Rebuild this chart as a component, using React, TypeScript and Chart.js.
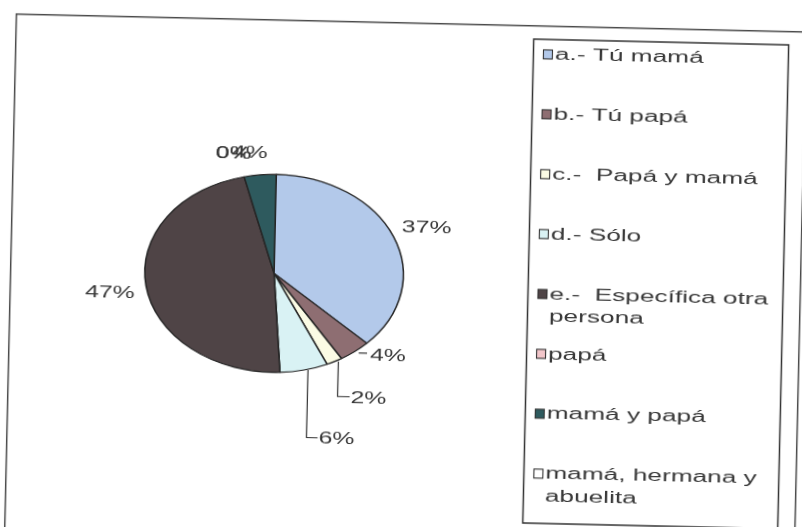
import React, { useEffect, useRef } from "react";
import { Chart, registerables } from "chart.js";

Chart.register(...registerables);

// ---- data ----
const categories = [
  "a.- Tú mamá",
  "b.- Tú papá",
  "c.-  Papá y mamá",
  "d.- Sólo",
  "e.-  Específica otra persona",
  "papá",
  "mamá y papá",
  "mamá, hermana y abuelita",
];
const values = [37, 4, 2, 6, 47, 0, 4, 0];
const sliceColors = [
  "#b3c9ea",
  "#8e6e72",
  "#fbfbe4",
  "#d9f2f4",
  "#4f4446",
  "#f2c6ca",
  "#2e5a5e",
  "#ffffff",
];

// ---- layout / style config (not data) ----
const W = 840;
const H = 560;
const PIE_CX = 280.2;
const PIE_CY = 267.1;
const PIE_HALF = 99.6; // half of chart area (radius + border spacing)
const PIE_SX = 1.306; // horizontal stretch of the scanned pie
const LABEL_TSX = 1.55;
const LEGEND_TSX = 1.64;
const FONT = "16px 'Liberation Sans', Arial, sans-serif";
const TEXT_COLOR = "#383838";
const labelOffsets: [number, number][] = [
  [32.8, -10.4],
  [33.3, 2.9],
  [35, 34.9],
  [34, 67.5],
  [-36, 6],
  [-11, -24.4],
  [-10.8, -22.5],
  [-43, -21.3],
];
const labelLeaders = ["none", "dash", "elbow", "elbow", "none", "none", "none", "none"];
const FRAME = { x: 16.7, y: 13.7, w: 790, h: 580 };
const LEGEND_BOX = { x: 534.5, y: 27, w: 255, h: 484 };
const LEG_MARK_X = 544.5;
const LEG_MARK = 9;
const LEG_TEXT_X = 556;
const LEG_Y0 = 42;
const LEG_DY = 59.9;
const LEG_LINE_H = 22.5;
const LEG_WRAP_W = 232;

function drawText(ctx: CanvasRenderingContext2D, text: string, x: number, y: number, sx: number, align: CanvasTextAlign) {
  ctx.save();
  ctx.translate(x, y);
  ctx.scale(sx, 1);
  ctx.textAlign = align;
  ctx.textBaseline = "alphabetic";
  ctx.fillText(text, 0, 0);
  ctx.restore();
}

function wrap(ctx: CanvasRenderingContext2D, text: string, sx: number, maxW: number): string[] {
  const words = text.split(" ");
  const lines: string[] = [];
  let line = words[0];
  for (let i = 1; i < words.length; i++) {
    const test = line + " " + words[i];
    if (ctx.measureText(test).width * sx > maxW && line.trim() !== "" && words[i] !== "") {
      lines.push(line);
      line = words[i];
    } else {
      line = test;
    }
  }
  lines.push(line);
  return lines;
}

const scanPlugin = {
  id: "scanLook",
  beforeDraw(chart: any) {
    const ctx: CanvasRenderingContext2D = chart.ctx;
    ctx.save();
    ctx.fillStyle = "#ffffff";
    ctx.fillRect(0, 0, chart.width, chart.height);
    ctx.strokeStyle = "#4a4a4a";
    ctx.lineWidth = 1.5;
    ctx.strokeRect(FRAME.x, FRAME.y, FRAME.w, FRAME.h);
    ctx.strokeStyle = "#333333";
    ctx.lineWidth = 1.5;
    ctx.strokeRect(LEGEND_BOX.x, LEGEND_BOX.y, LEGEND_BOX.w, LEGEND_BOX.h);
    ctx.restore();
  },
  beforeDatasetsDraw(chart: any) {
    const arc = chart.getDatasetMeta(0).data[0];
    const ctx: CanvasRenderingContext2D = chart.ctx;
    ctx.save();
    ctx.translate(arc.x, arc.y);
    ctx.scale(PIE_SX, 1);
    ctx.translate(-arc.x, -arc.y);
  },
  afterDatasetsDraw(chart: any) {
    chart.ctx.restore();
  },
  afterDraw(chart: any) {
    const ctx: CanvasRenderingContext2D = chart.ctx;
    const meta = chart.getDatasetMeta(0);
    const total = values.reduce((a, b) => a + b, 0);
    ctx.save();
    ctx.font = FONT;
    ctx.fillStyle = TEXT_COLOR;
    ctx.strokeStyle = "#333333";
    ctx.lineWidth = 1.2;

    // data labels
    meta.data.forEach((arc: any, i: number) => {
      const p = arc.getProps(["x", "y", "startAngle", "endAngle", "outerRadius"], true);
      const mid = (p.startAngle + p.endAngle) / 2;
      const ax = p.x + PIE_SX * p.outerRadius * Math.cos(mid);
      const ay = p.y + p.outerRadius * Math.sin(mid);
      const lx = ax + labelOffsets[i][0];
      const ly = ay + labelOffsets[i][1];
      const text = Math.round((values[i] / total) * 100) + "%";
      const tw = ctx.measureText(text).width * LABEL_TSX;
      const left = lx - tw / 2;
      drawText(ctx, text, lx, ly + 6, LABEL_TSX, "center");
      if (labelLeaders[i] === "dash") {
        ctx.beginPath();
        ctx.moveTo(ax + 4, ly - 1.5);
        ctx.lineTo(left - 3, ly - 1.5);
        ctx.stroke();
      } else if (labelLeaders[i] === "elbow") {
        ctx.beginPath();
        ctx.moveTo(ax + 4, ay);
        ctx.lineTo(ax + 4, ly);
        ctx.lineTo(left - 1, ly);
        ctx.stroke();
      }
    });

    // legend
    categories.forEach((cat, i) => {
      const y = LEG_Y0 + i * LEG_DY;
      ctx.fillStyle = sliceColors[i];
      ctx.fillRect(LEG_MARK_X, y - LEG_MARK / 2, LEG_MARK, LEG_MARK);
      ctx.lineWidth = 1.1;
      ctx.strokeRect(LEG_MARK_X, y - LEG_MARK / 2, LEG_MARK, LEG_MARK);
      ctx.fillStyle = TEXT_COLOR;
      const lines = wrap(ctx, cat, LEGEND_TSX, LEG_WRAP_W);
      lines.forEach((ln, k) => {
        drawText(ctx, ln, LEG_TEXT_X, y + 5 + k * LEG_LINE_H, LEGEND_TSX, "left");
      });
    });
    ctx.restore();
  },
};

export default function App() {
  const ref = useRef<HTMLCanvasElement>(null);
  useEffect(() => {
    const chart = new Chart(ref.current as HTMLCanvasElement, {
      type: "pie",
      data: {
        labels: categories,
        datasets: [
          {
            data: values,
            backgroundColor: sliceColors,
            borderColor: "#262626",
            borderWidth: 1.2,
          },
        ],
      },
      options: {
        animation: false,
        responsive: true,
        maintainAspectRatio: false,
        events: [],
        layout: {
          padding: {
            left: PIE_CX - PIE_HALF,
            top: PIE_CY - PIE_HALF,
            right: W - PIE_CX - PIE_HALF,
            bottom: H - PIE_CY - PIE_HALF,
          },
        },
        plugins: {
          legend: { display: false },
          tooltip: { enabled: false },
        },
      },
      plugins: [scanPlugin],
    });
    return () => chart.destroy();
  }, []);
  return (
    <div
      style={{
        position: "fixed",
        left: 0,
        top: 0,
        width: W,
        height: H,
        transform: "rotate(1.3deg)",
        transformOrigin: "0 0",
        background: "#fff",
      }}
    >
      <canvas ref={ref} />
    </div>
  );
}
